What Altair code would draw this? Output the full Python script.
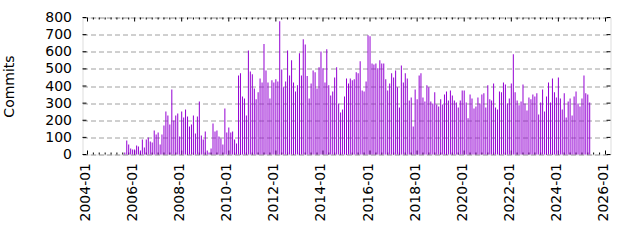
import altair as alt
import pandas as pd

# Monthly commit counts, first bar is 2005-08
FIRST_MONTH = "2005-08-01"
commits_2005 = [12, 82, 58, 35, 29]
commits_2006 = [29, 53, 47, 23, 88, 41, 88, 99, 76, 70, 140, 117]
commits_2007 = [129, 58, 117, 170, 251, 228, 175, 380, 199, 228, 240, 105]
commits_2008 = [251, 216, 263, 222, 164, 175, 228, 123, 222, 310, 111, 88]
commits_2009 = [135, 23, 12, 35, 181, 135, 140, 105, 94, 58, 269, 129]
commits_2010 = [158, 129, 135, 88, 64, 462, 474, 339, 327, 228, 608, 485]
commits_2011 = [468, 386, 322, 363, 444, 421, 645, 491, 421, 327, 433, 421]
commits_2012 = [439, 427, 778, 497, 392, 427, 608, 462, 550, 421, 368, 404]
commits_2013 = [591, 462, 673, 643, 459, 327, 415, 491, 480, 386, 509, 602]
commits_2014 = [503, 421, 614, 404, 345, 368, 450, 509, 298, 245, 263, 339]
commits_2015 = [444, 415, 444, 433, 439, 480, 474, 544, 374, 368, 427, 696]
commits_2016 = [690, 532, 526, 532, 503, 550, 532, 532, 439, 374, 415, 474]
commits_2017 = [450, 491, 392, 275, 520, 421, 474, 444, 316, 333, 164, 380]
commits_2018 = [322, 462, 474, 333, 310, 404, 392, 310, 298, 363, 292, 281]
commits_2019 = [322, 292, 351, 368, 316, 374, 345, 316, 304, 275, 316, 374]
commits_2020 = [374, 304, 211, 351, 327, 269, 281, 333, 298, 351, 357, 275]
commits_2021 = [404, 322, 316, 415, 275, 263, 368, 363, 421, 409, 298, 327]
commits_2022 = [415, 585, 363, 316, 287, 310, 409, 298, 257, 333, 322, 351]
commits_2023 = [339, 357, 234, 304, 380, 251, 339, 421, 304, 444, 363, 333]
commits_2024 = [450, 327, 263, 357, 216, 310, 327, 228, 339, 368, 298, 281]
commits_2025 = [327, 462, 357, 351, 304]

commits = (commits_2005 + commits_2006 + commits_2007 + commits_2008 + commits_2009
           + commits_2010 + commits_2011 + commits_2012 + commits_2013 + commits_2014
           + commits_2015 + commits_2016 + commits_2017 + commits_2018 + commits_2019
           + commits_2020 + commits_2021 + commits_2022 + commits_2023 + commits_2024
           + commits_2025)

label_years = list(range(2004, 2027, 2))
y_ticks = list(range(0, 801, 100))

months = pd.date_range(FIRST_MONTH, periods=len(commits), freq="MS")
df = pd.DataFrame({"d": months, "commits": commits})

minor = pd.date_range("2004-01-01", "2026-01-01", freq="3MS")
major_df = pd.DataFrame({"d": [pd.Timestamp(y, 1, 1) for y in label_years]})
minor_df = pd.DataFrame({"d": [d for d in minor if d.month != 1 or d.year % 2 == 1]})
ytick_df = pd.DataFrame({"commits": y_ticks})

W, H = 528, 137
FONT = "DejaVu Sans"

x_scale = alt.Scale(domain=[alt.DateTime(year=2004, month=1, date=1),
                            alt.DateTime(year=2026, month=1, date=1)])
y_scale = alt.Scale(domain=[0, 800], nice=False)

x_axis = alt.Axis(values=[alt.DateTime(year=y, month=1, date=1) for y in label_years],
                  format="%Y-%m", labelAngle=270, labelAlign="right",
                  labelBaseline="middle", labelOffset=-2, title=None, grid=False,
                  ticks=False, tickSize=0, domain=False, labelPadding=8,
                  labelFontSize=14, labelFont=FONT, labelColor="black",
                  labelOverlap=False, labelFlush=False, labelBound=False)
y_axis = alt.Axis(values=y_ticks, title="Commits", grid=True, gridDash=[5, 3],
                  gridColor="#a0a0a0", gridWidth=1, ticks=False, tickSize=0,
                  domain=False, labelPadding=11, labelFontSize=14, labelFont=FONT,
                  labelColor="black", titleFont=FONT, titleFontSize=14,
                  titleFontWeight="normal", titleColor="black", titlePadding=28)

X = alt.X("d:T", scale=x_scale, axis=x_axis)
Y = alt.Y("commits:Q", scale=y_scale, axis=y_axis)

bars = alt.Chart(df).mark_bar(size=1, color="#9400D3").encode(x=X, y=Y)

left_ticks = alt.Chart(ytick_df).mark_rule(color="black").encode(
    y=Y, x=alt.value(0), x2=alt.value(4))
right_ticks = alt.Chart(ytick_df).mark_rule(color="black").encode(
    y=Y, x=alt.value(W), x2=alt.value(W - 4))
bottom_major = alt.Chart(major_df).mark_rule(color="black").encode(
    x=X, y=alt.value(H), y2=alt.value(H - 4))
top_major = alt.Chart(major_df).mark_rule(color="black").encode(
    x=X, y=alt.value(0), y2=alt.value(4))
bottom_minor = alt.Chart(minor_df).mark_rule(color="black").encode(
    x=X, y=alt.value(H), y2=alt.value(H - 2))
top_minor = alt.Chart(minor_df).mark_rule(color="black").encode(
    x=X, y=alt.value(0), y2=alt.value(2))

chart = alt.layer(
    bottom_major, top_major, bottom_minor, top_minor, bars, left_ticks, right_ticks
).properties(
    width=W, height=H,
    autosize=alt.AutoSizeParams(type="none"),
    padding={"left": 82.5, "top": 17.5, "right": 29.5, "bottom": 85.5},
).configure_view(
    stroke="black", strokeWidth=1
).configure(font=FONT, background="white")

chart.save("out.html", embed_options={"renderer": "svg", "actions": False})
